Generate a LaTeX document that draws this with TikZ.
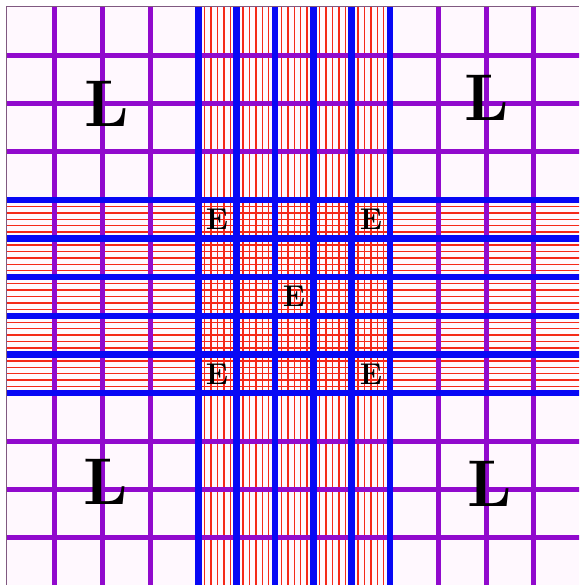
\documentclass[tikz,border=0pt]{standalone}
\usepackage{xcolor}
\definecolor{gridpurple}{RGB}{145,10,205}
\definecolor{gridblue}{RGB}{8,8,245}
\definecolor{gridred}{RGB}{245,40,25}
\definecolor{paper}{RGB}{255,248,254}

\begin{document}
\begin{tikzpicture}[x=1pt, y=-1pt,
    blueline/.style={draw=gridblue, line width=6.5pt},
    purpleline/.style={draw=gridpurple, line width=5pt},
    redline/.style={draw=gridred, line width=1.4pt},
    biglabel/.style={inner sep=0pt, font=\bfseries\fontsize{66}{66}\selectfont},
    smalllabel/.style={inner sep=0pt, font=\bfseries\fontsize{30}{30}\selectfont}]
  \useasboundingbox (0,0) rectangle (579,585);
  \fill[white] (0,0) rectangle (579,585);
  \fill[paper] (6.5,7) rectangle (579,585);
  \begin{scope}
    \clip (6.5,7) rectangle (579,585);
    % red rulings of the centre bands
    \foreach \i in {0,...,4} \foreach \k in {1,...,5} {
      \draw[redline] ({198.3+38.36*(\i+\k/6)},7) -- ++(0,578);
      \draw[redline] (6.5,{200+38.6*(\i+\k/6)}) -- ++(573,0);
    }
    % corner squares, 4 by 4
    \foreach \k in {1,2,3} {
      \draw[purpleline] ({6.5+47.95*\k},7) -- ++(0,578);
      \draw[purpleline] ({390.1+47.95*\k},7) -- ++(0,578);
      \draw[purpleline] (6.5,{7+48.25*\k}) -- ++(573,0);
      \draw[purpleline] (6.5,{393+48.25*\k}) -- ++(573,0);
    }
    % centre square, 5 by 5
    \foreach \i in {0,...,5} {
      \draw[blueline] ({198.3+38.36*\i},7) -- ++(0,578);
      \draw[blueline] (6.5,{200+38.6*\i}) -- ++(573,0);
    }
  \end{scope}
  % frame
  \draw[gray!70!violet, line width=1pt] (6.5,585) -- (6.5,7) -- (579,7);
  % labels
  \node[biglabel] (Ltl) at (107,104) {L};
  \node[biglabel] (Ltr) at (487,98) {L};
  \node[biglabel] (Lbl) at (106,482) {L};
  \node[biglabel] (Lbr) at (490,484) {L};
  \node[smalllabel] (Etl) at (217,219) {E};
  \node[smalllabel] (Etr) at (371,219) {E};
  \node[smalllabel] (Ec) at (294,296) {E};
  \node[smalllabel] (Ebl) at (217,374) {E};
  \node[smalllabel] (Ebr) at (371,374) {E};
\end{tikzpicture}
\end{document}
